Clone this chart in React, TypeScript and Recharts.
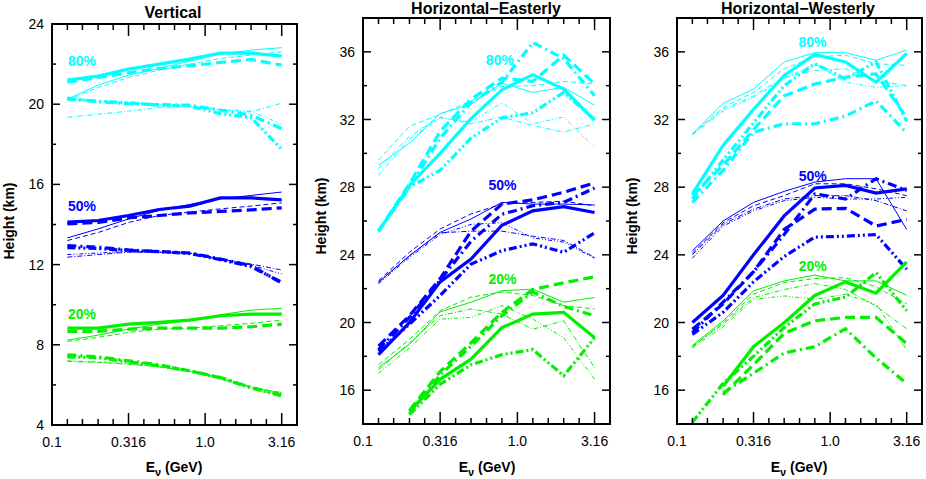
import React from "react";
import { LineChart, Line, XAxis, YAxis, ReferenceDot, ReferenceArea } from "recharts";

// neutrino energies (GeV) where the heights were computed
const energies = [0.126, 0.2, 0.316, 0.501, 0.794, 1.259, 1.995, 3.162];

const xTicks = [0.1, 0.126, 0.158, 0.2, 0.251, 0.316, 0.398, 0.501, 0.631, 0.794, 1.0, 1.259, 1.585, 1.995, 2.512, 3.162];
const xMajorTicks = [0.1, 0.316, 1.0, 3.162];
const xTickLabels = ["0.1", "0.316", "1.0", "3.16"];

const verticalTicks = [4, 6, 8, 10, 12, 14, 16, 18, 20, 22, 24];
const verticalTickLabels = [4, 8, 12, 16, 20, 24];
const horizontalTicks = [16, 18, 20, 22, 24, 26, 28, 30, 32, 34, 36];
const horizontalTickLabels = [16, 20, 24, 28, 32, 36];

const percentLabels = ["80%", "50%", "20%"];

// rows: thick solid, thick dashed, thick dash-dot, thick dash-dot-dot,
//       thin solid, thin dashed, thin dash-dot, thin dash-dot-dot
const vertical80 = [
  [21.2, 21.4, 21.75, 22.0, 22.25, 22.55, 22.55, 22.4],
  [21.1, 21.33, 21.57, 21.78, 21.92, 22.08, 22.23, 21.95],
  [20.3, 20.12, 20.03, 19.98, 19.95, 19.7, 19.45, 18.78],
  [20.25, 20.15, 20.07, 19.95, 19.9, 19.53, 19.33, 17.75],
  [20.25, 20.95, 21.45, 21.78, 22.15, 22.5, 22.7, 22.82],
  [20.2, 20.83, 21.33, 21.7, 22.0, 22.28, 22.45, 22.62],
  [19.35, 19.5, 19.65, 19.83, 19.9, 19.7, 19.62, 20.05],
  [20.3, 20.15, 20.05, 20.0, 19.9, 19.75, 19.65, 19.0],
];
const vertical50 = [
  [14.12, 14.2, 14.45, 14.75, 14.92, 15.33, 15.33, 15.23],
  [14.03, 14.1, 14.33, 14.45, 14.58, 14.65, 14.73, 14.83],
  [12.95, 12.87, 12.73, 12.65, 12.58, 12.28, 11.95, 11.08],
  [12.85, 12.8, 12.7, 12.65, 12.55, 12.25, 11.9, 11.12],
  [13.33, 13.78, 14.28, 14.7, 15.0, 15.28, 15.45, 15.62],
  [13.2, 13.6, 14.1, 14.45, 14.62, 14.78, 14.92, 15.08],
  [12.37, 12.5, 12.62, 12.62, 12.57, 12.28, 12.03, 11.73],
  [12.5, 12.58, 12.65, 12.62, 12.55, 12.25, 11.98, 11.53],
];
const vertical20 = [
  [8.83, 8.83, 9.03, 9.12, 9.23, 9.45, 9.53, 9.53],
  [8.67, 8.67, 8.78, 8.83, 8.83, 8.83, 8.9, 9.03],
  [7.5, 7.4, 7.2, 7.0, 6.7, 6.37, 5.87, 5.5],
  [7.4, 7.35, 7.15, 6.95, 6.7, 6.35, 5.85, 5.45],
  [8.23, 8.48, 8.78, 9.03, 9.2, 9.5, 9.73, 9.82],
  [8.17, 8.37, 8.62, 8.78, 8.83, 8.95, 9.07, 9.23],
  [7.17, 7.12, 7.03, 6.9, 6.67, 6.33, 5.87, 5.62],
  [7.2, 7.15, 7.05, 6.92, 6.7, 6.35, 5.9, 5.6],
];

const easterly80 = [
  [25.4, 28.1, 30.0, 32.05, 33.75, 34.65, 33.8, 31.95],
  [25.4, 28.2, 31.3, 33.2, 34.45, 34.25, 35.8, 34.1],
  [25.4, 28.0, 30.9, 33.0, 34.2, 36.55, 35.6, 33.4],
  [25.4, 28.0, 29.0, 30.9, 32.1, 32.4, 33.6, 32.0],
  [29.3, 30.6, 32.35, 32.9, 34.15, 33.6, 33.9, 32.85],
  [29.6, 31.6, 32.3, 33.1, 33.95, 34.0, 34.25, 34.1],
  [29.1, 31.0, 32.15, 31.75, 32.15, 31.65, 31.25, 31.75],
  [28.7, 30.85, 32.1, 31.85, 33.0, 31.75, 32.15, 30.35],
];
const easterly50 = [
  [18.1, 20.0, 22.4, 23.75, 25.75, 26.6, 26.85, 26.5],
  [18.6, 20.4, 22.6, 25.4, 27.0, 27.25, 27.7, 28.25],
  [18.4, 20.3, 22.5, 24.8, 26.4, 26.9, 27.1, 27.95],
  [18.3, 19.9, 21.6, 23.45, 24.25, 24.65, 24.15, 25.3],
  [22.37, 23.95, 25.33, 26.12, 27.1, 27.0, 27.0, 26.95],
  [22.47, 24.15, 25.53, 26.42, 27.0, 27.1, 27.17, 26.9],
  [22.4, 23.95, 25.3, 25.4, 25.4, 25.1, 24.85, 23.85],
  [22.3, 23.85, 25.2, 25.8, 25.9, 25.0, 24.75, 23.8],
];
const easterly20 = [
  [null, 14.75, 16.64, 17.83, 19.7, 20.5, 20.6, 19.1],
  [null, 14.8, 17.1, 18.8, 20.6, 21.95, 22.35, 22.7],
  [null, 14.6, 16.9, 18.6, 20.4, 21.8, 20.95, 20.4],
  [null, 14.55, 16.35, 17.5, 18.1, 18.4, 16.85, 19.1],
  [17.33, 18.7, 20.63, 21.2, 21.88, 21.97, 21.2, 21.48],
  [17.5, 19.0, 20.7, 21.5, 21.8, 21.6, 21.0, 20.8],
  [17.2, 18.8, 20.4, 20.8, 20.5, 19.6, 20.1, 17.33],
  [17.0, 18.5, 20.2, 20.3, 21.0, 20.2, 19.1, 16.65],
];

const westerly80 = [
  [27.6, 30.47, 32.6, 34.6, 35.85, 35.4, 34.2, 35.9],
  [27.5, 29.3, 31.4, 33.4, 34.1, 34.5, 34.7, 32.1],
  [27.1, 29.0, 31.25, 31.75, 31.75, 32.2, 33.1, 31.2],
  [27.3, 29.6, 31.8, 34.0, 35.3, 34.4, 35.4, 31.9],
  [31.15, 32.95, 33.8, 35.4, 35.95, 35.95, 35.5, 36.1],
  [31.15, 32.7, 33.6, 35.0, 35.7, 35.8, 35.3, 35.2],
  [31.1, 32.6, 33.4, 34.5, 34.9, 35.0, 34.3, 34.0],
  [31.1, 32.5, 33.3, 34.4, 35.3, 34.2, 33.9, 34.0],
];
const westerly50 = [
  [20.0, 21.6, 24.0, 26.3, 27.95, 28.1, 27.65, 27.9],
  [19.6, 21.1, 23.0, 25.5, 26.7, 26.75, 25.7, 26.1],
  [19.4, 21.2, 23.0, 25.2, 27.6, 27.3, 28.5, 27.8],
  [19.3, 20.6, 22.4, 23.9, 25.05, 25.1, 25.2, 23.15],
  [24.24, 26.0, 27.1, 27.75, 28.3, 28.5, 28.5, 25.5],
  [24.1, 25.9, 26.9, 27.5, 28.2, 28.2, 27.9, 27.5],
  [24.0, 25.8, 26.7, 27.3, 27.5, 27.5, 27.2, 26.6],
  [23.8, 25.7, 26.6, 27.2, 27.4, 27.3, 27.3, 27.4],
];
const westerly20 = [
  [null, 16.23, 18.57, 19.99, 21.6, 22.4, 21.73, 23.58],
  [null, 15.74, 17.5, 19.36, 20.1, 20.3, 20.3, 18.76],
  [null, 15.84, 17.0, 18.2, 18.57, 19.63, 17.9, 16.4],
  [14.1, 16.4, 18.0, 19.7, 21.1, 21.5, 22.95, 20.7],
  [18.64, 20.1, 21.87, 22.46, 22.8, 22.46, 22.46, 21.6],
  [18.55, 20.0, 21.67, 22.36, 22.6, 22.65, 22.1, 21.1],
  [18.6, 19.9, 21.47, 21.95, 22.3, 21.95, 20.97, 19.63],
  [18.5, 19.75, 21.37, 21.57, 21.37, 21.67, 21.07, 18.4],
];

// where the percentile tags sit, in data units [energy, height]
const verticalSpots = [[0.157, 22.15], [0.157, 14.9], [0.157, 9.55]];
const easterlySpots = [[0.77, 35.5], [0.8, 28.1], [0.8, 22.6]];
const westerlySpots = [[0.766, 36.6], [0.77, 28.67], [0.77, 23.33]];

const groupColors = ["#00ffff", "#0000ff", "#00f000"];
const lineStyles = [
  { width: 3.2, dash: undefined },
  { width: 3.2, dash: "10 5" },
  { width: 3.2, dash: "9 4 2 4" },
  { width: 3.2, dash: "8 3 2 3 2 3" },
  { width: 1, dash: undefined },
  { width: 1, dash: "5 3" },
  { width: 1, dash: "5 2 1 2" },
  { width: 1, dash: "4 2 1 2 1 2" },
];

const H = 479;
const FONT = "'Liberation Sans', Arial, Helvetica, sans-serif";
const INK = "#000000";
const xDomain: [number, number] = [0.1, 3.98];

// ticks point into the plot on all four sides; the bottom axis also marks the top edge,
// the left axis also marks the right edge
function BottomTick(p: any) {
  const idx = xMajorTicks.indexOf(p.payload.value);
  const len = idx >= 0 ? 12 : 6;
  const top = p.y - p.span;
  return (
    <g>
      <line x1={p.x} x2={p.x} y1={p.y} y2={p.y - len} stroke={INK} strokeWidth={1.5} />
      <line x1={p.x} x2={p.x} y1={top} y2={top + len} stroke={INK} strokeWidth={1.5} />
      {idx >= 0 && (
        <text x={p.x} y={p.y + 22} textAnchor="middle" fontSize={14} fontFamily={FONT} fill={INK}>
          {xTickLabels[idx]}
        </text>
      )}
    </g>
  );
}

function LeftTick(p: any) {
  const major = p.labels.includes(p.payload.value);
  const len = major ? 8 : 4;
  const right = p.x + p.span;
  return (
    <g>
      <line x1={p.x} x2={p.x + len} y1={p.y} y2={p.y} stroke={INK} strokeWidth={1.5} />
      <line x1={right} x2={right - len} y1={p.y} y2={p.y} stroke={INK} strokeWidth={1.5} />
      {major && (
        <text x={p.x - 8} y={p.y + 5} textAnchor="end" fontSize={14} fontFamily={FONT} fill={INK}>
          {p.payload.value}
        </text>
      )}
    </g>
  );
}

function PctLabel(p: any) {
  const vb = p.viewBox || { x: 0, y: 0, width: 0, height: 0 };
  return (
    <text
      x={vb.x + (vb.width || 0) / 2}
      y={vb.y + (vb.height || 0) / 2 + 5}
      textAnchor="middle"
      fontSize={14}
      fontWeight="bold"
      fontFamily={FONT}
      fill={p.color}
    >
      {p.text}
    </text>
  );
}

function Panel(props: {
  left: number;
  width: number;
  plot: { left: number; right: number; top: number; bottom: number };
  yDomain: [number, number];
  yTicks: number[];
  yLabels: number[];
  groups: (number | null)[][][];
  spots: number[][];
}) {
  const { left, width, plot, yDomain, yTicks, yLabels, groups, spots } = props;
  const rows = energies.map((e, i) => {
    const row: Record<string, number | null> = { e };
    groups.forEach((g, gi) =>
      g.forEach((s, si) => {
        row[`g${gi}s${si}`] = s[i];
      })
    );
    return row;
  });
  const plotW = plot.right - plot.left;
  const plotH = plot.bottom - plot.top;

  return (
    <div style={{ position: "absolute", left, top: 0, width, height: H }}>
      <LineChart
        width={width}
        height={H}
        data={rows}
        margin={{ top: plot.top, right: left + width - plot.right, bottom: H - plot.bottom - 30, left: 0 }}
      >
        <XAxis
          xAxisId="b"
          dataKey="e"
          type="number"
          scale="log"
          domain={xDomain}
          allowDataOverflow
          ticks={xTicks}
          interval={0}
          height={30}
          tickSize={0}
          tickMargin={0}
          tickLine={false}
          axisLine={false}
          tick={(p: any) => <BottomTick {...p} span={plotH} />}
        />
        <YAxis
          yAxisId="l"
          type="number"
          domain={yDomain}
          allowDataOverflow
          ticks={yTicks}
          interval={0}
          width={plot.left - left}
          tickSize={0}
          tickMargin={0}
          tickLine={false}
          axisLine={false}
          tick={(p: any) => <LeftTick {...p} labels={yLabels} span={plotW} />}
        />
        {groups.map((g, gi) =>
          g.map((_, si) => (
            <Line
              key={`g${gi}s${si}`}
              xAxisId="b"
              yAxisId="l"
              type="linear"
              dataKey={`g${gi}s${si}`}
              stroke={groupColors[gi]}
              strokeWidth={lineStyles[si].width}
              strokeDasharray={lineStyles[si].dash}
              dot={false}
              activeDot={false}
              isAnimationActive={false}
            />
          ))
        )}
        <ReferenceArea
          xAxisId="b"
          yAxisId="l"
          x1={xDomain[0]}
          x2={xDomain[1]}
          y1={yDomain[0]}
          y2={yDomain[1]}
          fill="none"
          stroke={INK}
          strokeWidth={2}
          ifOverflow="visible"
        />
        {spots.map((s, gi) => (
          <ReferenceDot
            key={`spot${gi}`}
            xAxisId="b"
            yAxisId="l"
            x={s[0]}
            y={s[1]}
            r={0}
            fill="none"
            stroke="none"
            ifOverflow="visible"
            label={<PctLabel text={percentLabels[gi]} color={groupColors[gi]} />}
          />
        ))}
      </LineChart>
    </div>
  );
}

function XLabel({ x }: { x: number }) {
  return (
    <text x={x} y={472} textAnchor="middle" fontSize={14} fontWeight="bold" fontFamily={FONT} fill={INK}>
      <tspan>E</tspan>
      <tspan dy={4} fontSize={11}>ν</tspan>
      <tspan dy={-4}> (GeV)</tspan>
    </text>
  );
}

function YLabel({ x, y }: { x: number; y: number }) {
  return (
    <text
      transform={`translate(${x},${y}) rotate(-90)`}
      textAnchor="middle"
      fontSize={14}
      fontWeight="bold"
      fontFamily={FONT}
      fill={INK}
    >
      Height (km)
    </text>
  );
}

export default function App() {
  return (
    <div style={{ position: "absolute", left: 0, top: 0, width: 926, height: H, background: "#fff" }}>
      <svg width={926} height={H} style={{ position: "absolute", left: 0, top: 0 }}>
        <text x={173} y={18} textAnchor="middle" fontSize={16} fontWeight="bold" fontFamily={FONT} fill={INK}>
          Vertical
        </text>
        <text x={486} y={14} textAnchor="middle" fontSize={16} fontWeight="bold" fontFamily={FONT} fill={INK}>
          Horizontal−Easterly
        </text>
        <text x={798} y={14} textAnchor="middle" fontSize={16} fontWeight="bold" fontFamily={FONT} fill={INK}>
          Horizontal−Westerly
        </text>
        <YLabel x={14} y={221} />
        <YLabel x={326} y={216} />
        <YLabel x={637} y={216} />
        <XLabel x={174} />
        <XLabel x={487} />
        <XLabel x={799} />
      </svg>
      <Panel
        left={0}
        width={310}
        plot={{ left: 52, right: 297, top: 24, bottom: 425 }}
        yDomain={[4, 24]}
        yTicks={verticalTicks}
        yLabels={verticalTickLabels}
        groups={[vertical80, vertical50, vertical20]}
        spots={verticalSpots}
      />
      <Panel
        left={310}
        width={310}
        plot={{ left: 363, right: 610, top: 18, bottom: 424 }}
        yDomain={[14, 38]}
        yTicks={horizontalTicks}
        yLabels={horizontalTickLabels}
        groups={[easterly80, easterly50, easterly20]}
        spots={easterlySpots}
      />
      <Panel
        left={620}
        width={306}
        plot={{ left: 677, right: 922, top: 18, bottom: 424 }}
        yDomain={[14, 38]}
        yTicks={horizontalTicks}
        yLabels={horizontalTickLabels}
        groups={[westerly80, westerly50, westerly20]}
        spots={westerlySpots}
      />
    </div>
  );
}
